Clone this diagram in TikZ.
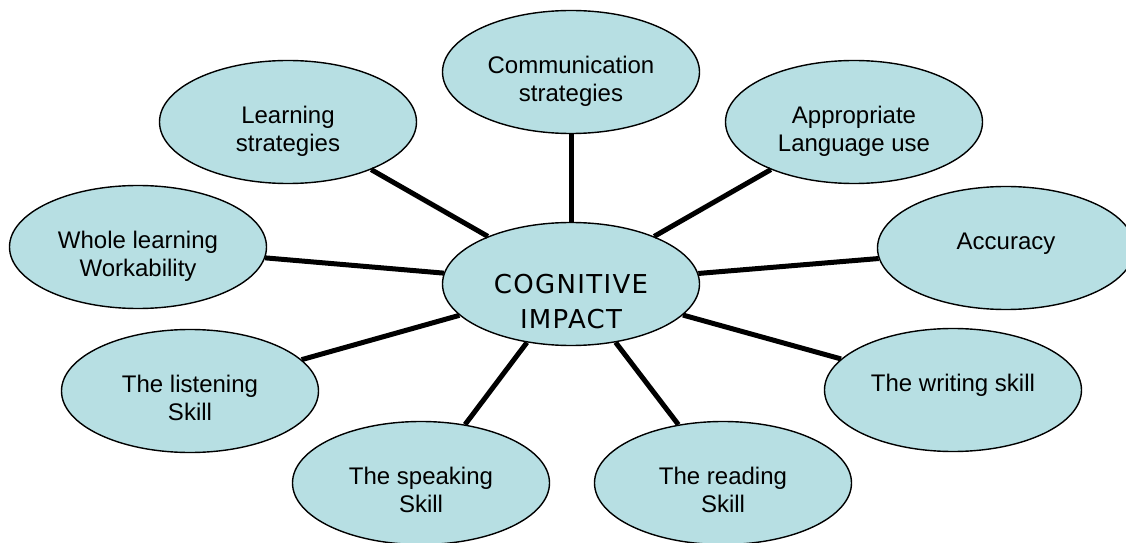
\documentclass[tikz,border=0pt]{standalone}
\usepackage{fontspec}
\setmainfont{Liberation Sans}
\newfontfamily\hubfont[LetterSpace=5]{DejaVu Sans}
\usetikzlibrary{shapes, positioning}
\definecolor{ovalfill}{RGB}{183,223,227}
\newcommand{\ovaltext}[2][-5pt]{\raisebox{#1}[\height][\depth]{\begin{tabular}{@{}c@{}}#2\end{tabular}}}

\begin{document}
\begin{tikzpicture}[x=50pt, y=50pt,
    oval/.style={draw, fill=ovalfill, ellipse, line width=0.7pt, inner sep=0pt,
      minimum width=128.5pt, minimum height=61.5pt, font=\fontsize{12}{14}\selectfont},
    spoke/.style={line width=2.5pt}]
  \useasboundingbox (0,0) rectangle (11.26,5.42);
  \node[oval, font=\hubfont\fontsize{13}{17.5}\selectfont] (cog) at (5.71,2.58) {\ovaltext[-10pt]{COGNITIVE\\IMPACT}};
  \node[oval] (comm) at (5.71,4.70) {\ovaltext{Communication\\strategies}};
  \node[oval] (learn) at (2.88,4.20) {\ovaltext{Learning\\strategies}};
  \node[oval] (appr) at (8.54,4.20) {\ovaltext{Appropriate\\Language use}};
  \node[oval] (whole) at (1.38,2.95) {\ovaltext{Whole learning\\Workability}};
  \node[oval] (acc) at (10.06,2.94) {\ovaltext{Accuracy\\\strut}};
  \node[oval] (listen) at (1.90,1.51) {\ovaltext{The listening\\Skill}};
  \node[oval] (writing) at (9.53,1.52) {\ovaltext{The writing skill\\\strut}};
  \node[oval] (speak) at (4.21,0.59) {\ovaltext{The speaking\\Skill}};
  \node[oval] (reading) at (7.23,0.59) {\ovaltext{The reading\\Skill}};
  \foreach \n in {comm,learn,appr,whole,acc,listen,writing,speak,reading}{
    \draw[spoke] (cog) -- (\n);
  };
\end{tikzpicture}
\end{document}
